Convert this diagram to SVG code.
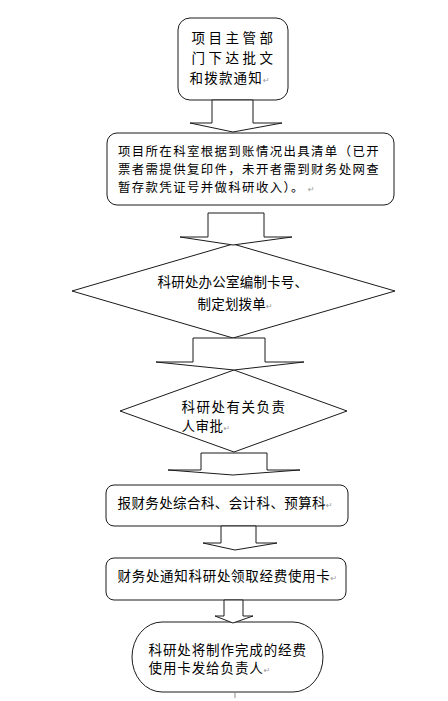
<svg xmlns="http://www.w3.org/2000/svg" width="448" height="701" viewBox="0 0 448 701">
<style>
.s{fill:#fff;stroke:#1a1a1a;stroke-width:1}
.a{fill:#fff;stroke:#1a1a1a;stroke-width:1;stroke-linejoin:miter}
.t{font-family:"Noto Sans CJK SC","Noto Sans",sans-serif;font-size:13.5px;fill:#000}
.t2{font-family:"Noto Sans CJK SC","Noto Sans",sans-serif;font-size:12.4px;fill:#000}
.r{font-family:"DejaVu Sans",sans-serif;font-size:8px;fill:#999;letter-spacing:0}
</style>
<rect width="448" height="701" fill="#fff"/>
<g id="n1">
<rect class="s" x="178" y="18" width="110" height="82" rx="12"/>
<text class="t" x="191.5" y="43" letter-spacing="3.5">项目主管部</text>
<text class="t" x="191.5" y="63" letter-spacing="3.5">门下达批文</text>
<text class="t" x="189.5" y="83" letter-spacing="1.2">和拨款通知<tspan class="r">↵</tspan></text>
</g>
<g id="n2">
<rect class="s" x="107" y="133" width="287" height="72" rx="10"/>
<text class="t2" x="118" y="155.5" letter-spacing="1.4">项目所在科室根据到账情况出具清单（已开</text>
<text class="t2" x="118" y="173.5" letter-spacing="1.4">票者需提供复印件，未开者需到财务处网查</text>
<text class="t2" x="118" y="191.5" letter-spacing="1.4">暂存款凭证号并做科研收入）。<tspan class="r" dx="3">↵</tspan></text>
</g>
<g id="n3">
<polygon class="s" points="233,244 395,291 233,338 72,291"/>
<text class="t" x="157.5" y="287" letter-spacing="0.2">科研处办公室编制卡号、</text>
<text class="t" x="197.5" y="309" letter-spacing="0.2">制定划拨单<tspan class="r">↵</tspan></text>
</g>
<g id="n4">
<polygon class="s" points="234,370 347,411 234,452 120,411"/>
<text class="t" x="181.5" y="412" letter-spacing="1.5">科研处有关负责</text>
<text class="t" x="181.5" y="431" letter-spacing="0.5">人审批<tspan class="r">↵</tspan></text>
</g>
<g id="n5">
<rect class="s" x="106" y="485" width="242" height="41" rx="8"/>
<text class="t" x="117.5" y="508" letter-spacing="0.4">报财务处综合科、会计科、预算科<tspan class="r">↵</tspan></text>
</g>
<g id="n6">
<rect class="s" x="106" y="558" width="240" height="42" rx="8"/>
<text class="t" x="117.5" y="581" letter-spacing="0.7">财务处通知科研处领取经费使用卡<tspan class="r">↵</tspan></text>
</g>
<g id="n7">
<rect class="s" x="132" y="622" width="191" height="70" rx="30" ry="35"/>
<text class="t" x="148.5" y="655" letter-spacing="0.9">科研处将制作完成的经费</text>
<text class="t" x="148.5" y="673" letter-spacing="0.9">使用卡发给负责人<tspan class="r">↵</tspan></text>
</g>
<g id="connectors">
<path class="a" d="M212,100 L253,100 L253,123 L282,123 L233,132 L190,123 L212,123 Z"/>
<path class="a" d="M208,213 L264,213 L264,237 L292,237 L233,245 L180,237 L208,237 Z"/>
<path class="a" d="M193,338 L265,338 L265,362 L304,362 L234,370 L156,362 L193,362 Z"/>
<path class="a" d="M201,453 L267,453 L267,470 L300,470 L233,475 L168,470 L201,470 Z"/>
<path class="a" d="M221,526 L256,526 L256,543 L277,543 L235,550 L203,543 L221,543 Z"/>
<path class="a" d="M224,600 L243,600 L243,616 L253,616 L233,623 L215,616 L224,616 Z"/>
<path d="M235,693 L235,698" stroke="#888" stroke-width="1" fill="none"/>
</g>
</svg>
